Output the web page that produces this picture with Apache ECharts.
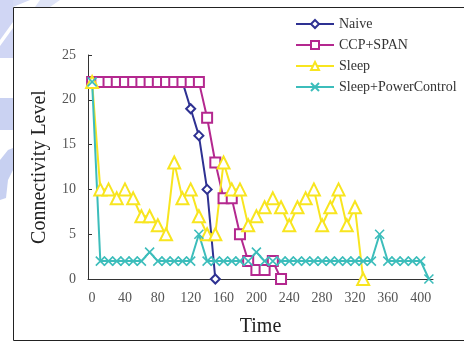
<!DOCTYPE html>
<html>
<head>
<meta charset="utf-8">
<script src="https://cdn.jsdelivr.net/npm/echarts@6/dist/echarts.min.js"></script>
<style>
html,body{margin:0;padding:0;background:#fff;}
#chart{width:464px;height:342px;}
</style>
</head>
<body>
<div id="chart"></div>
<script>
var categories = ['0','10','20','30','40','50','60','70','80','90','100','110','120','130','140','150','160','170','180','190','200','210','220','230','240','250','260','270','280','290','300','310','320','330','340','350','360','370','380','390','400','410'];
var naive = [22,22,22,22,22,22,22,22,22,22,22,22,19,16,10,0];
var ccpSpan = [22,22,22,22,22,22,22,22,22,22,22,22,22,22,18,13,9,9,5,2,1,1,2,0];
var sleep = [22,10,10,9,10,9,7,7,6,5,13,9,10,7,5,5,13,10,10,6,7,8,9,8,6,8,9,10,6,8,10,6,8,0];
var sleepPower = [22,2,2,2,2,2,2,3,2,2,2,2,2,5,2,2,2,2,2,2,3,2,2,2,2,2,2,2,2,2,2,2,2,2,2,5,2,2,2,2,2,0];
var yTicks = [0,5,10,15,20,25];

var FONT = 'Liberation Serif';
var chart = echarts.init(document.getElementById('chart'));
function mk(name, data, color, symbol, size){
  return {
    name: name, type: 'line', data: data, color: color,
    symbol: symbol, symbolSize: size, showAllSymbol: true,
    lineStyle: {color: color, width: 2},
    itemStyle: {color: color, borderColor: color, borderWidth: 1.6},
    emphasis: {disabled: true}, animation: false
  };
}
var wm = 'rgba(130,150,225,0.45)';
chart.setOption({
  animation: false,
  backgroundColor: '#fff',
  grid: {left: 88, right: 31, top: 55, bottom: 63},
  legend: {
    orient: 'vertical', left: 290, top: 12,
    itemWidth: 38, itemHeight: 10, itemGap: 7,
    textStyle: {fontFamily: FONT, fontSize: 14, color: '#333'},
    data: ['Naive','CCP+SPAN','Sleep','Sleep+PowerControl']
  },
  xAxis: {
    type: 'category', data: categories, boundaryGap: true,
    name: 'Time', nameLocation: 'middle', nameGap: 38,
    nameTextStyle: {fontFamily: FONT, fontSize: 20, color: '#222'},
    axisLine: {lineStyle: {color: '#333', width: 1}},
    axisTick: {inside: true, length: 4, interval: 0, lineStyle: {color: '#333'}},
    axisLabel: {interval: 3, margin: 12, fontFamily: FONT, fontSize: 14, color: '#555'}
  },
  yAxis: {
    type: 'value', min: yTicks[0], max: yTicks[yTicks.length-1], interval: 5,
    name: 'Connectivity Level', nameLocation: 'middle', nameGap: 38,
    nameTextStyle: {fontFamily: FONT, fontSize: 20, color: '#222'},
    axisLine: {show: true, lineStyle: {color: '#333', width: 1}},
    axisTick: {show: true, inside: true, length: 4, lineStyle: {color: '#333'}},
    splitLine: {show: false},
    axisLabel: {margin: 12, fontFamily: FONT, fontSize: 14, color: '#555'}
  },
  graphic: [
    {type: 'rect', z: -10, shape: {x: 0, y: 0, width: 13, height: 58}, style: {fill: 'rgba(150,165,230,0.45)'}},
    {type: 'polygon', z: -9, shape: {points: [[0,40],[13,22],[13,28],[0,46]]}, style: {fill: '#fff'}},
    {type: 'polygon', z: -9, shape: {points: [[13,0],[30,0],[13,7]]}, style: {fill: 'rgba(150,165,230,0.4)'}},
    {type: 'polygon', z: -9, shape: {points: [[40,0],[60,0],[50,7],[35,7]]}, style: {fill: 'rgba(150,165,230,0.3)'}},
    {type: 'rect', z: -10, shape: {x: 0, y: 98, width: 13, height: 32}, style: {fill: 'rgba(150,165,230,0.5)'}},
    {type: 'polygon', z: -10, shape: {points: [[0,160],[8,150],[13,148],[13,170],[8,180],[6,198],[0,200]]}, style: {fill: wm}},
    {type: 'rect', z: 10, shape: {x: 13.5, y: 7.5, width: 470, height: 333}, style: {fill: 'none', stroke: '#222', lineWidth: 1}}
  ],
  series: [
    mk('Naive', naive, '#2E3192', 'emptyDiamond', 9),
    mk('CCP+SPAN', ccpSpan, '#B4288F', 'emptyRect', 10),
    mk('Sleep', sleep, '#F8E51F', 'emptyTriangle', 12),
    mk('Sleep+PowerControl', sleepPower, '#3CBDBB', 'path://M0,0L10,10M10,0L0,10', 9)
  ]
});
</script>
</body>
</html>
